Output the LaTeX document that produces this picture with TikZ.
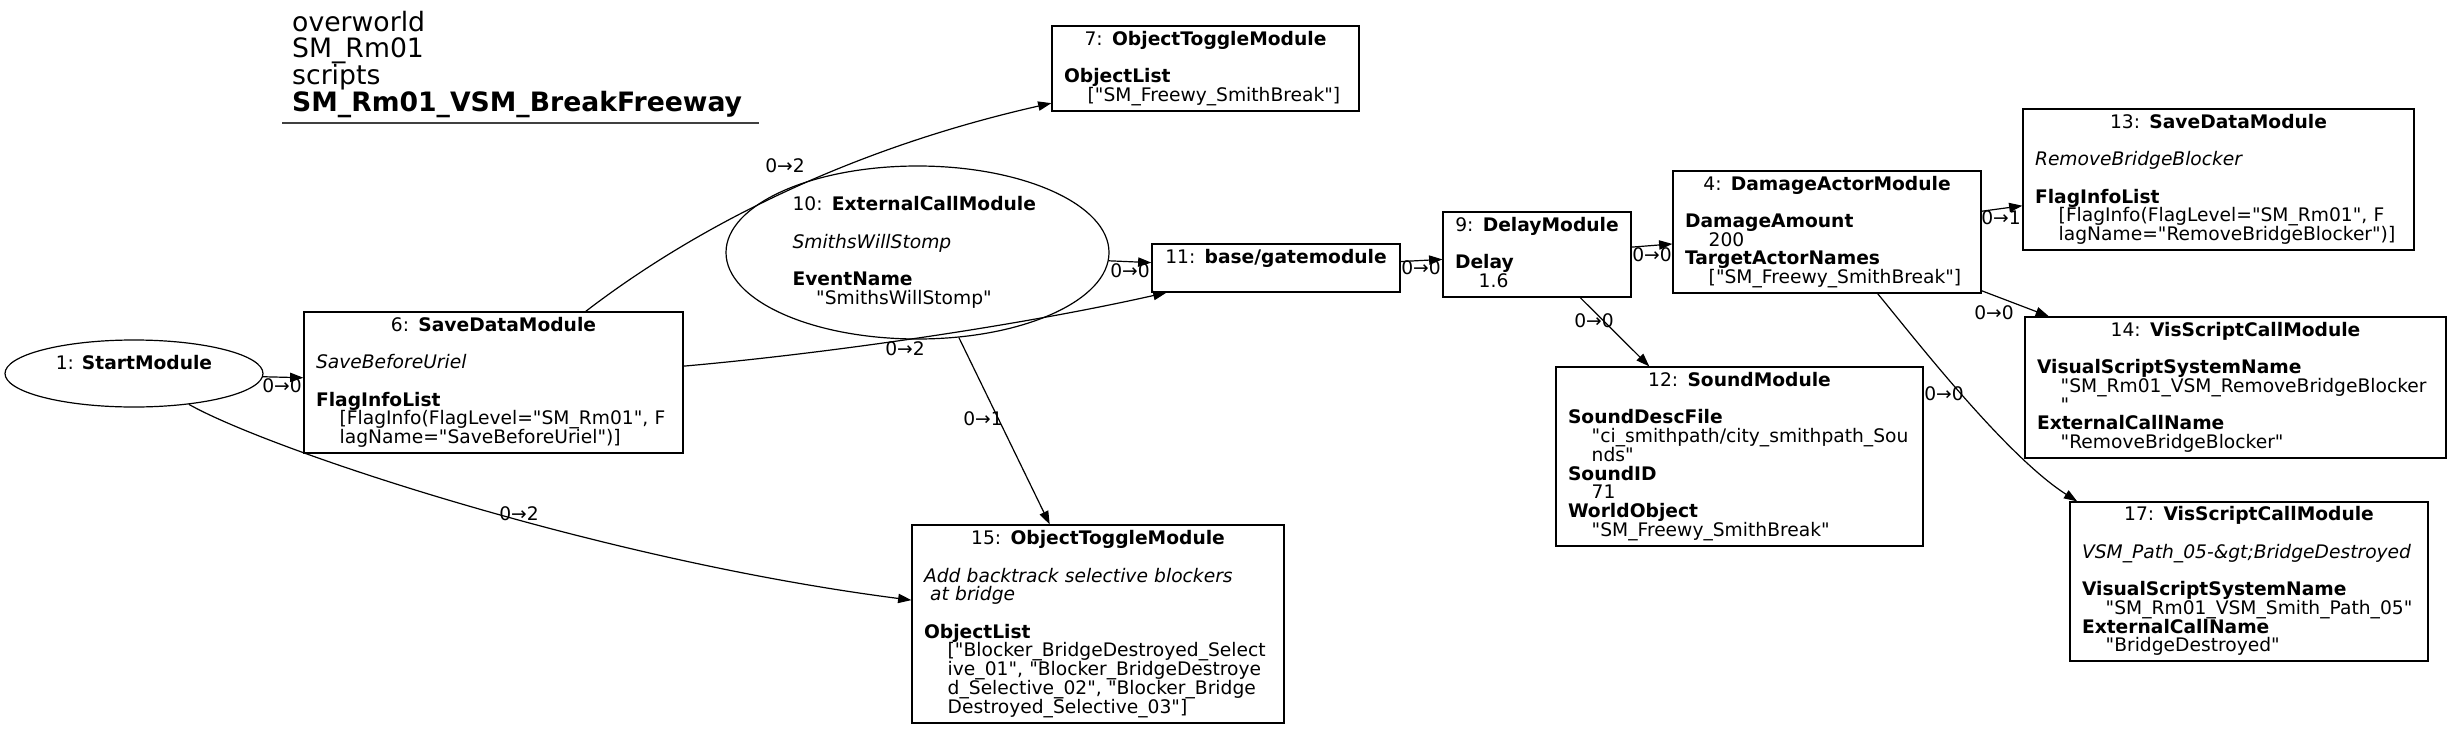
\documentclass[tikz,border=0pt]{standalone}
\usepackage{fontspec}
\setmainfont{DejaVu Sans}[Ligatures=TeXOff]
\usetikzlibrary{arrows.meta,shapes.geometric}
\newcommand\nodefont{\fontsize{18.67pt}{18.7pt}\selectfont\lineskiplimit=-30pt\relax}
\newcommand\ttlfont{\fontsize{26.67pt}{26.7pt}\selectfont\lineskiplimit=-30pt\relax}
\newcommand\topln[1]{\hbox to\hsize{\hss\rule{0pt}{14.2pt}#1\hss}}
\newcommand\xln[1]{\mbox{#1}}
\newcommand\xind[1]{\mbox{\hspace*{23.7pt}#1}}
\newcommand\xlast{\rule[-4.5pt]{0pt}{4.5pt}}
\begin{document}
\begin{tikzpicture}[x=1pt,y=-1pt,
  box/.style={draw, rectangle, line width=1.2pt, inner sep=0pt, align=left, font=\nodefont},
  oval/.style={draw, ellipse, line width=1.2pt, inner sep=0pt, font=\nodefont},
  edge/.style={line width=1.2pt, -{Triangle[length=13.3pt,width=9.3pt]}},
  lbl/.style={font=\nodefont, inner sep=0pt}]
\fill[white] (0,0) rectangle (2451,728);
\useasboundingbox (0,0) rectangle (2451,728);

% title
\node[anchor=north west, inner sep=0pt, align=left, font=\ttlfont] (title) at (292,10)
  {\rule{0pt}{21pt}overworld\\SM\_Rm01\\scripts\\\textbf{SM\_Rm01\_VSM\_BreakFreeway}};
\draw[line width=1.5pt, black!75] (282,123) -- (759,123);

% nodes
\node[oval, minimum width=258pt, minimum height=67pt, align=center] (n1) at (134,373.5)
  {\rule{0pt}{14.2pt}1: \textbf{StartModule}\\\mbox{}\xlast};

\node[box, minimum width=379pt, minimum height=141pt, text width=355pt] (n6) at (493.5,382.5)
  {\topln{6: \textbf{SaveDataModule}}\\\mbox{}\\\xln{\textit{SaveBeforeUriel}}\\\mbox{}\\\xln{\textbf{FlagInfoList}}\\\xind{[FlagInfo(FlagLevel="SM\_Rm01", F}\\\xind{lagName="SaveBeforeUriel")]\xlast}};

\node[box, minimum width=307pt, minimum height=85pt, text width=283pt] (n7) at (1205.5,68.5)
  {\topln{7: \textbf{ObjectToggleModule}}\\\mbox{}\\\xln{\textbf{ObjectList}}\\\xind{["SM\_Freewy\_SmithBreak"]\xlast}};

\node[oval, minimum width=383pt, minimum height=173pt, text width=250pt, align=left] (n10) at (917.5,252.5)
  {\xln{\rule{0pt}{14.2pt}10: \textbf{ExternalCallModule}}\\\mbox{}\\\xln{\textit{SmithsWillStomp}}\\\mbox{}\\\xln{\textbf{EventName}}\\\xind{"SmithsWillStomp"\xlast}};

\node[box, minimum width=248pt, minimum height=48pt, text width=224pt] (n11) at (1276,268)
  {\topln{11: \textbf{base/gatemodule}}\\\mbox{}\xlast};

\node[box, minimum width=188pt, minimum height=85pt, text width=164pt] (n9) at (1537,254.5)
  {\topln{9: \textbf{DelayModule}}\\\mbox{}\\\xln{\textbf{Delay}}\\\xind{1.6\xlast}};

\node[box, minimum width=308pt, minimum height=122pt, text width=284pt] (n4) at (1827,232)
  {\topln{4: \textbf{DamageActorModule}}\\\mbox{}\\\xln{\textbf{DamageAmount}}\\\xind{200}\\\xln{\textbf{TargetActorNames}}\\\xind{["SM\_Freewy\_SmithBreak"]\xlast}};

\node[box, minimum width=367pt, minimum height=179pt, text width=343pt] (n12) at (1739.5,456.5)
  {\topln{12: \textbf{SoundModule}}\\\mbox{}\\\xln{\textbf{SoundDescFile}}\\\xind{"ci\_smithpath/city\_smithpath\_Sou}\\\xind{nds"}\\\xln{\textbf{SoundID}}\\\xind{71}\\\xln{\textbf{WorldObject}}\\\xind{"SM\_Freewy\_SmithBreak"\xlast}};

\node[box, minimum width=391pt, minimum height=141pt, text width=367pt] (n13) at (2218.5,179.5)
  {\topln{13: \textbf{SaveDataModule}}\\\mbox{}\\\xln{\textit{RemoveBridgeBlocker}}\\\mbox{}\\\xln{\textbf{FlagInfoList}}\\\xind{[FlagInfo(FlagLevel="SM\_Rm01", F}\\\xind{lagName="RemoveBridgeBlocker")]\xlast}};

\node[box, minimum width=421pt, minimum height=141pt, text width=397pt] (n14) at (2235.5,387.5)
  {\topln{14: \textbf{VisScriptCallModule}}\\\mbox{}\\\xln{\textbf{VisualScriptSystemName}}\\\xind{"SM\_Rm01\_VSM\_RemoveBridgeBlocker}\\\xind{"}\\\xln{\textbf{ExternalCallName}}\\\xind{"RemoveBridgeBlocker"\xlast}};

\node[box, minimum width=358pt, minimum height=159pt, text width=334pt] (n17) at (2249,581.5)
  {\topln{17: \textbf{VisScriptCallModule}}\\\mbox{}\\\xln{\textit{VSM\_Path\_05-\&gt;BridgeDestroyed}}\\\mbox{}\\\xln{\textbf{VisualScriptSystemName}}\\\xind{"SM\_Rm01\_VSM\_Smith\_Path\_05"}\\\xln{\textbf{ExternalCallName}}\\\xind{"BridgeDestroyed"\xlast}};

\node[box, minimum width=372pt, minimum height=198pt, text width=348pt] (n15) at (1098,624)
  {\topln{15: \textbf{ObjectToggleModule}}\\\mbox{}\\\xln{\textit{Add backtrack selective blockers}}\\\xln{\textit{\ at bridge}}\\\mbox{}\\\xln{\textbf{ObjectList}}\\\xind{["Blocker\_BridgeDestroyed\_Select}\\\xind{ive\_01", "Blocker\_BridgeDestroye}\\\xind{d\_Selective\_02", "Blocker\_Bridge}\\\xind{Destroyed\_Selective\_03"]\xlast}};

% edges
\draw[edge] (n1) -- (n6);
\draw[edge] (n6) .. controls (650,262) and (800,160) .. (n7);
\draw[edge] (n6) .. controls (800,356) and (1000,330) .. (n11);
\draw[edge] (n10) -- (n11);
\draw[edge] (n10) -- (n15);
\draw[edge] (n1) .. controls (270,450) and (600,560) .. (n15);
\draw[edge] (n11) -- (n9);
\draw[edge] (n9) -- (n4);
\draw[edge] (n9) -- (n12);
\draw[edge] (n4) -- (n13);
\draw[edge] (n4) -- (n14);
\draw[edge] (n4) .. controls (1915,339) and (2006,456) .. (n17.155);

% edge labels
\node[lbl] (l1) at (282,386) {0→0};
\node[lbl] (l2) at (785,166) {0→2};
\node[lbl] (l3) at (905,349) {0→2};
\node[lbl] (l4) at (1130,271) {0→0};
\node[lbl] (l5) at (983,419) {0→1};
\node[lbl] (l6) at (519,514) {0→2};
\node[lbl] (l7) at (1421,268) {0→0};
\node[lbl] (l8) at (1652,255) {0→0};
\node[lbl] (l9) at (1594,321) {0→0};
\node[lbl] (l10) at (2001,218) {0→1};
\node[lbl] (l11) at (1994,313) {0→0};
\node[lbl] (l12) at (1944,394) {0→0};
\end{tikzpicture}
\end{document}
